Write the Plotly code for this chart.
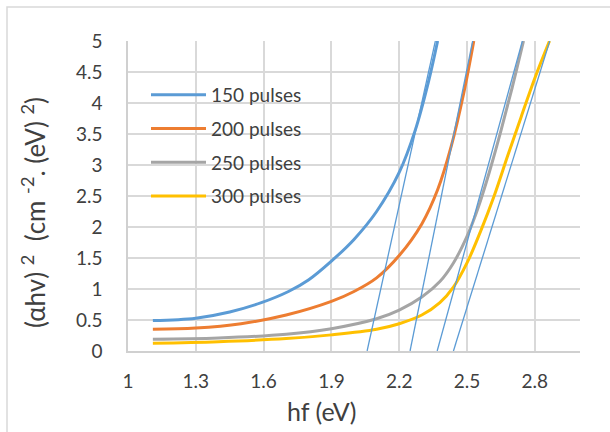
import plotly.graph_objects as go

# ---- data ----
x_150 = [1.11, 1.30, 1.45, 1.59, 1.71, 1.80, 1.90, 2.00, 2.10, 2.20, 2.27, 2.33, 2.37]
y_150 = [0.49, 0.53, 0.63, 0.78, 0.96, 1.15, 1.45, 1.80, 2.25, 2.88, 3.55, 4.35, 5.00]

x_200 = [1.11, 1.30, 1.50, 1.70, 1.90, 2.00, 2.10, 2.20, 2.30, 2.37, 2.43, 2.485, 2.53]
y_200 = [0.35, 0.37, 0.44, 0.58, 0.80, 0.96, 1.18, 1.54, 2.05, 2.60, 3.30, 4.15, 5.00]

x_250 = [1.11, 1.40, 1.70, 1.90, 2.10, 2.20, 2.30, 2.38, 2.44, 2.50, 2.55, 2.60, 2.65, 2.70, 2.75]
y_250 = [0.19, 0.21, 0.27, 0.36, 0.52, 0.66, 0.87, 1.12, 1.42, 1.85, 2.32, 2.90, 3.55, 4.25, 5.00]

x_300 = [1.11, 1.40, 1.70, 1.90, 2.10, 2.20, 2.30, 2.38, 2.44, 2.50, 2.56, 2.62, 2.68, 2.74, 2.80, 2.865]
y_300 = [0.125, 0.15, 0.20, 0.26, 0.35, 0.44, 0.58, 0.78, 1.03, 1.42, 1.93, 2.50, 3.15, 3.78, 4.40, 5.00]

series_names = ["150 pulses", "200 pulses", "250 pulses", "300 pulses"]
series_x = [x_150, x_200, x_250, x_300]
series_y = [y_150, y_200, y_250, y_300]
colors = ["#5b9bd5", "#ed7d31", "#a5a5a5", "#ffc000"]

# tangent (Tauc extrapolation) lines: x at y=0 and x at y=5
tangent_x0 = [2.058, 2.248, 2.368, 2.440]
tangent_x5 = [2.360, 2.525, 2.745, 2.866]
tangent_y = [0, 5]

x_ticks = [1, 1.3, 1.6, 1.9, 2.2, 2.5, 2.8]
y_ticks = [0, 0.5, 1, 1.5, 2, 2.5, 3, 3.5, 4, 4.5, 5]

FONT = "Lato"
TXT = "#404040"

fig = go.Figure()
for name, xs, ys, c in zip(series_names, series_x, series_y, colors):
    fig.add_trace(go.Scatter(x=xs, y=ys, mode="lines", name=name,
                             line=dict(color=c, width=3, shape="spline", smoothing=1.0),
                             legendgroup=name))

for a, b in zip(tangent_x0, tangent_x5):
    fig.add_trace(go.Scatter(x=[a, b], y=tangent_y, mode="lines", showlegend=False,
                             line=dict(color="#5b9bd5", width=1.3)))

W, H = 610, 432
L, R, T, B = 128, 30, 41, 81
pw, ph = W - L - R, H - T - B

fig.update_layout(
    width=W, height=H,
    margin=dict(l=L, r=R, t=T, b=B),
    paper_bgcolor="white", plot_bgcolor="white",
    font=dict(family=FONT, color=TXT, size=19),
    showlegend=True,
    legend=dict(x=(146 - L) / pw, y=1 - (76 - T) / ph, xanchor="left", yanchor="top",
                bgcolor="rgba(255,255,255,0)", font=dict(size=19, color=TXT, family=FONT),
                itemwidth=55, tracegroupgap=6, traceorder="grouped"),
    xaxis=dict(range=[1, 3.0], tickvals=x_ticks, ticktext=[str(v) for v in x_ticks],
               showgrid=True, gridcolor="#d9d9d9", gridwidth=1.5,
               showline=True, linecolor="#d0d0d0", linewidth=1.5,
               ticks="", ticklabelstandoff=12, zeroline=False,
               tickfont=dict(size=19, color=TXT, family=FONT)),
    yaxis=dict(range=[0, 5], tickvals=y_ticks, ticktext=[f"{v:g}" for v in y_ticks],
               showgrid=True, gridcolor="#d9d9d9", gridwidth=1.5,
               showline=True, linecolor="#d0d0d0", linewidth=1.5,
               ticks="", ticklabelstandoff=20, zeroline=False,
               tickfont=dict(size=19, color=TXT, family=FONT)),
    annotations=[
        dict(text="(αhv) <sup>2</sup>  (cm <sup>-2</sup>. (eV) <sup>2</sup>)",
             xref="paper", yref="paper", x=(33 - L) / pw, y=1 - (213 - T) / ph,
             xanchor="center", yanchor="middle", textangle=-90, showarrow=False,
             font=dict(size=26, color=TXT, family=FONT)),
        dict(text="hf (eV)", xref="paper", yref="paper",
             x=(321 - L) / pw, y=1 - (411 - T) / ph, xanchor="center", yanchor="middle",
             showarrow=False, font=dict(size=25, color=TXT, family=FONT)),
    ],
    shapes=[
        dict(type="rect", xref="paper", yref="paper",
             x0=(7 - L) / pw, x1=1.3, y0=-0.6, y1=1 + (T - 7) / ph,
             line=dict(color="#d9d9d9", width=1.5), fillcolor="rgba(0,0,0,0)", layer="below"),
    ],
)

fig.write_html("out.html")
